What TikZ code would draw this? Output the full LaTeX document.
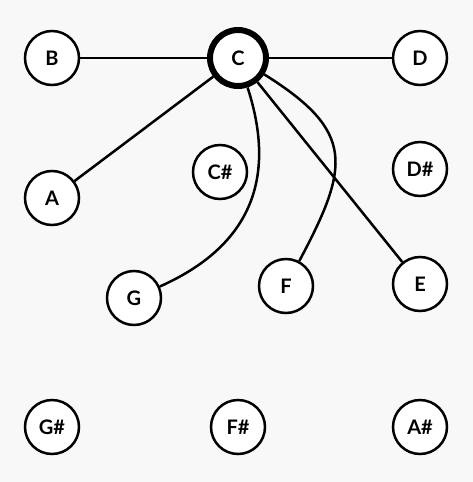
\documentclass[tikz,border=0pt]{standalone}
\usepackage{fontspec}
\setmainfont{Lato}
\definecolor{paper}{HTML}{F8F8F8}
\begin{document}
\begin{tikzpicture}[x=1pt, y=1pt,
    note/.style={circle, draw=black, line width=2.5pt, fill=white, minimum size=54pt, inner sep=0pt,
                 font=\bfseries\fontsize{20}{20}\selectfont},
    rootnote/.style={note, line width=6pt, minimum size=56pt},
    link/.style={black, line width=2.5pt}]
    % Background (473 x 482)
    \fill[paper] (0, 0) rectangle (473, -482);

    % Notes
    \node[rootnote] (C)  at (238, -58)  {C};
    \node[note]     (B)  at (52, -58)   {B};
    \node[note]     (D)  at (420, -58)  {D};
    \node[note]     (A)  at (52, -198)  {A};
    \node[note]     (Cs) at (220, -172) {C\#};
    \node[note]     (Ds) at (420, -169) {D\#};
    \node[note]     (G)  at (134, -298) {G};
    \node[note]     (F)  at (286, -286) {F};
    \node[note]     (E)  at (420, -284) {E};
    \node[note]     (Gs) at (52, -427)  {G\#};
    \node[note]     (Fs) at (238, -427) {F\#};
    \node[note]     (As) at (420, -427) {A\#};

    % Links from the root note
    \draw[link] (C) -- (B);
    \draw[link] (C) -- (D);
    \draw[link] (C) -- (A);
    \draw[link] (C) -- (E);
    \draw[link] (C) to[out=-72, in=24, looseness=1.15] (G);
    \draw[link] (C) to[out=-32, in=62, looseness=1.45] (F);
\end{tikzpicture}
\end{document}
